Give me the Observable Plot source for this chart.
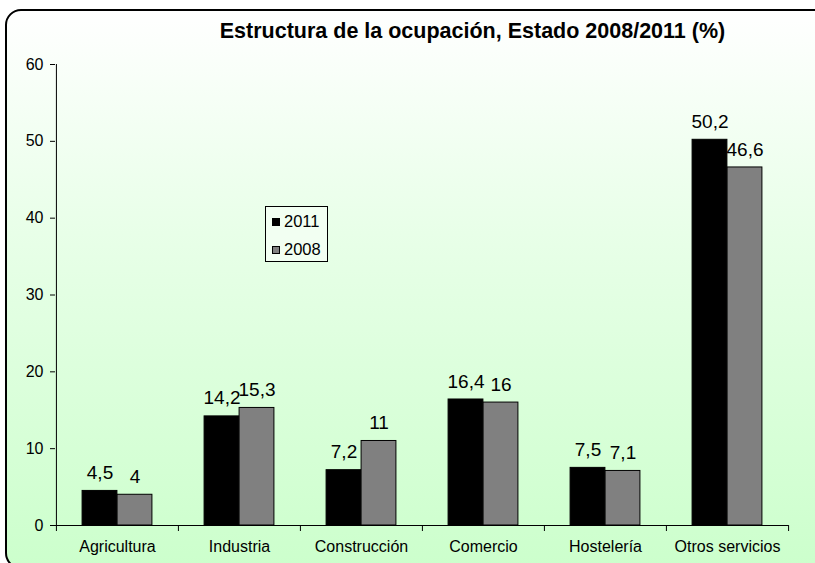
<!DOCTYPE html>
<html>
<head>
<meta charset="utf-8">
<script src="https://cdn.jsdelivr.net/npm/d3@7"></script>
<script src="https://cdn.jsdelivr.net/npm/@observablehq/plot@0.6"></script>
<style>
  html, body { margin: 0; padding: 0; background: #ffffff; }
  #wrap { position: relative; width: 815px; height: 563px; overflow: hidden; font-family: "Liberation Sans", Arial, sans-serif; }
  #panel { position: absolute; left: 5px; top: 9px; width: 840px; height: 560px; box-sizing: border-box;
           border: 2px solid #000; border-radius: 16px;
           background: linear-gradient(to bottom, #ffffff 0%, #e8ffe8 40%, #ccffcc 100%); }
  #chart { position: absolute; left: 0; top: 0; }
  #title { position: absolute; left: 0; top: 19px; width: 945px; text-align: center; font-weight: bold; font-size: 21.5px; color: #000; white-space: nowrap; }
  #legend { position: absolute; left: 265px; top: 206px; width: 63px; height: 56px; border: 1px solid #000; background: #f2fff2; box-sizing: border-box; }
  .item { position: absolute; left: 6px; font-size: 16.5px; color: #000; display: flex; align-items: center; }
  .sw { width: 8px; height: 8px; border: 1px solid #000; margin-right: 4px; box-sizing: border-box; }
</style>
</head>
<body>
<div id="wrap">
  <div id="panel"></div>
  <div id="chart"></div>
  <div id="title"></div>
  <div id="legend"></div>
</div>
<script>
const titleText = "Estructura de la ocupación, Estado 2008/2011 (%)";
const categories = ["Agricultura", "Industria", "Construcción", "Comercio", "Hostelería", "Otros servicios"];
const seriesNames = ["2011", "2008"];
const values2011 = [4.5, 14.2, 7.2, 16.4, 7.5, 50.2];
const values2008 = [4, 15.3, 11, 16, 7.1, 46.6];
const yTicks = [0, 10, 20, 30, 40, 50, 60];
const seriesColors = ["#000000", "#808080"];

const W = 815, H = 563, mL = 55, mR = 27, mT = 64, mB = 38;
const bw = (W - mL - mR) / categories.length;
const barW = 35;
const fmt = v => String(v).replace(".", ",");

const d2011 = categories.map((c, i) => ({cat: c, value: values2011[i], series: seriesNames[0]}));
const d2008 = categories.map((c, i) => ({cat: c, value: values2008[i], series: seriesNames[1]}));

const plot = Plot.plot({
  width: W, height: H,
  marginLeft: mL, marginRight: mR, marginTop: mT, marginBottom: mB,
  style: {background: "transparent", fontFamily: "Liberation Sans, Arial, sans-serif", color: "#000", overflow: "visible"},
  x: {domain: categories, padding: 0, axis: null},
  y: {domain: [0, 60], axis: null},
  marks: [
    Plot.barY(d2011, {x: "cat", y: "value", fill: seriesColors[0], stroke: "#000", strokeWidth: 1, insetLeft: bw / 2 - barW, insetRight: bw / 2}),
    Plot.barY(d2008, {x: "cat", y: "value", fill: seriesColors[1], stroke: "#000", strokeWidth: 1, insetLeft: bw / 2, insetRight: bw / 2 - barW}),
    Plot.text(d2011, {x: "cat", y: "value", text: d => fmt(d.value), dx: -barW / 2, dy: -18, fontSize: 19, fill: "#000"}),
    Plot.text(d2008, {x: "cat", y: "value", text: d => fmt(d.value), dx: barW / 2, dy: -18, fontSize: 19, fill: "#000"}),
    Plot.ruleY([0], {stroke: "#000"}),
    Plot.ruleX(categories, {x: d => d, y1: 0, y2: 0, dx: -bw / 2, insetBottom: -6, stroke: "#000"}),
    Plot.ruleX([categories[categories.length - 1]], {x: d => d, y1: 0, y2: 0, dx: bw / 2, insetBottom: -6, stroke: "#000"}),
    Plot.ruleX([categories[0]], {x: d => d, y1: 60, y2: 0, dx: -bw / 2, stroke: "#000"}),
    Plot.axisY(yTicks, {tickSize: 5, tickPadding: 7, fontSize: 16, label: null, stroke: "#000", fill: "#000"}),
    Plot.axisX({tickSize: 0, tickPadding: 15, fontSize: 16, label: null, fill: "#000"})
  ]
});
document.getElementById("chart").appendChild(plot);
document.getElementById("title").textContent = titleText;

const legend = document.getElementById("legend");
seriesNames.forEach((s, i) => {
  const item = document.createElement("div");
  item.className = "item";
  item.style.top = (i === 0 ? 5 : 33) + "px";
  const sw = document.createElement("span");
  sw.className = "sw";
  sw.style.background = seriesColors[i];
  item.appendChild(sw);
  item.appendChild(document.createTextNode(s));
  legend.appendChild(item);
});
</script>
</body>
</html>
